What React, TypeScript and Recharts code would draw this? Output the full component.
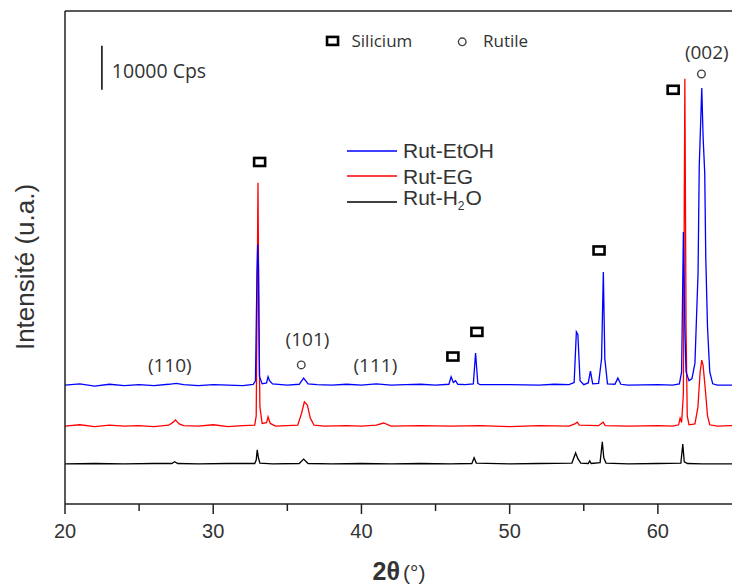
import React from 'react';
import {
  ComposedChart,
  Line,
  Scatter,
  XAxis,
  YAxis,
  Legend,
  ReferenceLine,
  ReferenceDot,
} from 'recharts';

// 2θ (°) vs intensity, in kcps (curves already offset as on the figure)
const RUT_ETOH: [number, number][] = [
  [20, 27], [21, 27.3], [22, 26.8], [23, 27.2], [24, 26.9], [25, 27.1], [26, 26.9], [27, 27.2],
  [27.5, 27.4], [28, 27.1], [29, 26.9], [30, 27.1], [31, 27], [32, 26.9], [32.7, 27.2], [32.85, 28],
  [32.95, 52], [33.0, 59], [33.05, 54], [33.12, 29], [33.3, 27.3], [33.6, 27.5], [33.7, 28.9],
  [33.8, 28], [34, 27.3], [35, 27], [35.8, 27.2], [36.1, 28.6], [36.4, 27.3], [37, 27.1], [38, 27],
  [39, 27.2], [40, 27], [41, 27.3], [42, 27], [43, 27.1], [44, 27.2], [45, 27], [45.9, 27.2],
  [46.05, 28.9], [46.2, 27.6], [46.35, 28], [46.5, 27.2], [47, 27.1], [47.55, 27.3], [47.7, 34.3],
  [47.85, 27.4], [48, 27.1], [50, 27.1], [52, 27], [53, 27.2], [54, 27.1], [54.35, 27.6],
  [54.5, 39.1], [54.6, 38.5], [54.75, 28], [55.0, 27.1], [55.3, 27.5], [55.45, 30.2], [55.6, 27.3],
  [56.0, 27.4], [56.2, 33], [56.32, 52.7], [56.42, 33], [56.6, 27.3], [57.1, 27.2], [57.3, 28.6],
  [57.5, 27.2], [58, 27], [60, 27.1], [61, 27], [61.45, 27.3], [61.6, 30], [61.72, 61.8],
  [61.82, 40], [61.9, 30], [62.1, 28], [62.3, 28.5], [62.5, 32], [62.71, 52.5], [62.79, 76.6],
  [62.96, 94.5], [63.05, 83.4], [63.16, 75.2], [63.23, 56], [63.35, 40], [63.5, 30], [63.7, 27.3],
  [64, 27], [65, 27],
];

const RUT_EG: [number, number][] = [
  [20, 17.7], [21, 18], [22, 17.6], [23, 17.9], [24, 17.7], [25, 17.8], [26, 17.6], [27, 17.9],
  [27.3, 18.6], [27.45, 19.1], [27.7, 18.2], [28, 17.8], [29, 17.7], [30, 18], [31, 17.6], [32, 17.8],
  [32.8, 17.9], [32.9, 20], [32.98, 55], [33.02, 73], [33.08, 42], [33.15, 22], [33.3, 18.3],
  [33.6, 18.5], [33.7, 19.8], [33.85, 18.3], [34.2, 17.7], [35, 17.8], [35.7, 17.9], [35.95, 20.5],
  [36.15, 23.2], [36.35, 22.5], [36.55, 19.5], [36.8, 17.9], [37.5, 17.7], [39, 17.8], [40, 17.7],
  [41, 17.9], [41.5, 18.4], [42, 17.7], [44, 17.8], [46, 17.7], [48, 17.8], [50, 17.6], [52, 17.8],
  [54, 17.7], [54.4, 18.2], [54.55, 18.6], [54.7, 17.9], [56, 17.8], [56.3, 18.6], [56.45, 17.8],
  [58, 17.7], [60, 17.8], [61, 17.7], [61.4, 18], [61.5, 19.5], [61.6, 18.5], [61.72, 25],
  [61.82, 96.6], [61.9, 40], [61.98, 20], [62.1, 18], [62.5, 18.2], [62.7, 22], [62.85, 30],
  [62.96, 32.7], [63.05, 31.5], [63.2, 26], [63.35, 20], [63.5, 18], [64, 17.7], [65, 17.8],
];

const RUT_H2O: [number, number][] = [
  [20, 9.1], [22, 9.2], [24, 9.1], [26, 9.2], [27.2, 9.2], [27.4, 9.6], [27.6, 9.2], [29, 9.1],
  [31, 9.2], [32.8, 9.2], [32.9, 10], [32.97, 12.3], [33.05, 10.5], [33.15, 9.3], [34, 9.1],
  [35.8, 9.2], [36.1, 10.2], [36.4, 9.2], [38, 9.1], [40, 9.2], [42, 9.1], [44, 9.2], [46, 9.1],
  [47.45, 9.2], [47.6, 10.5], [47.75, 9.3], [50, 9.1], [52, 9.2], [54.2, 9.3], [54.45, 11.6],
  [54.6, 10.3], [54.8, 9.3], [55.3, 9.2], [55.4, 9.8], [55.5, 9.2], [56.1, 9.4], [56.25, 14.1],
  [56.35, 10.5], [56.5, 9.3], [58, 9.1], [60, 9.2], [61.55, 9.3], [61.68, 13.6], [61.78, 9.6],
  [62, 9.2], [63, 9.1], [65, 9.1],
];

const SILICIUM_MARKS: [number, number][] = [
  [33.13, 77.7], [46.17, 33.5], [47.79, 39.1], [56.03, 57.6], [61.03, 94.1], [38.05, 105.2],
];
const RUTILE_MARKS: [number, number][] = [
  [35.94, 31.6], [62.94, 97.7], [46.8, 105],
];

const ANNOTATIONS: { x: number; y: number; text: string; anchor: 'start' | 'middle'; size: number }[] = [
  { x: 27.07, y: 31.6, text: '(110)', anchor: 'middle', size: 19 },
  { x: 36.36, y: 37.3, text: '(101)', anchor: 'middle', size: 19 },
  { x: 40.94, y: 31.6, text: '(111)', anchor: 'middle', size: 19 },
  { x: 63.3, y: 102.7, text: '(002)', anchor: 'middle', size: 19 },
  { x: 23.16, y: 98.4, text: '10000 Cps', anchor: 'start', size: 19.5 },
  { x: 39.33, y: 105.2, text: 'Silicium', anchor: 'start', size: 17 },
  { x: 48.2, y: 105.2, text: 'Rutile', anchor: 'start', size: 17 },
];

const SCALE_BAR_X = 22.49;
const SCALE_BAR_Y = [94.1, 104.1];

const X_TICKS = [20, 25, 30, 35, 40, 45, 50, 55, 60];

const SERIES = [
  { key: 'etoh', name: 'Rut-EtOH', color: '#0000ff', points: RUT_ETOH },
  { key: 'eg', name: 'Rut-EG', color: '#ff0000', points: RUT_EG },
  { key: 'h2o', name: 'Rut-H2O', color: '#000000', points: RUT_H2O },
];

const toXY = (pts: [number, number][]) => pts.map(([x, y]) => ({ x, y }));

const AXIS_COLOR = '#222';
const TEXT_COLOR = '#333';
const ARIAL = '"Liberation Sans", Arial, sans-serif';
const CALIBRI = '"Open Sans", "Noto Sans", sans-serif';

function XTick({ x, y, payload }: any) {
  const major = payload.value % 10 === 0;
  return (
    <g>
      <line x1={x} x2={x} y1={y} y2={y + (major ? 10 : 7)} stroke={AXIS_COLOR} strokeWidth={1.5} />
      {major && (
        <text x={x} y={y + 34} textAnchor="middle" fontSize={20} fontFamily={ARIAL} fill={TEXT_COLOR}>
          {payload.value}
        </text>
      )}
    </g>
  );
}

function SquareMark({ cx, cy }: any) {
  return <rect x={cx - 5.5} y={cy - 4} width={11} height={8} fill="none" stroke="#000" strokeWidth={2.6} />;
}

function CircleMark({ cx, cy }: any) {
  return <circle cx={cx} cy={cy} r={3.8} fill="none" stroke="#444" strokeWidth={1.4} />;
}

function renderLegend() {
  return (
    <div style={{ fontFamily: ARIAL, fontSize: 21, color: TEXT_COLOR }}>
      {SERIES.map((s) => (
        <div key={s.key} style={{ display: 'flex', alignItems: 'center', height: 25.5 }}>
          <svg width={50} height={4} style={{ marginRight: 6 }}>
            <line x1={0} x2={50} y1={2} y2={2} stroke={s.color} strokeWidth={1.3} />
          </svg>
          <span style={{ lineHeight: '25px' }}>
            {s.key === 'h2o' ? (
              <>
                Rut-H<sub style={{ fontSize: 12, verticalAlign: -5, letterSpacing: 1 }}>2</sub>O
              </>
            ) : (
              s.name
            )}
          </span>
        </div>
      ))}
    </div>
  );
}

export default function App() {
  return (
    <div style={{ position: 'absolute', left: 0, top: 0, background: '#fff' }}>
      <ComposedChart width={732} height={585} margin={{ top: 11, right: 0, left: 64, bottom: 51 }}>
        <XAxis
          dataKey="x"
          type="number"
          domain={[20, 65]}
          ticks={X_TICKS}
          interval={0}
          height={30}
          tickLine={false}
          tickSize={0}
          tickMargin={0}
          tick={<XTick />}
          axisLine={{ stroke: AXIS_COLOR, strokeWidth: 1.5 }}
          label={{
            content: () => (
              <text x={399} y={580} textAnchor="middle" fill={TEXT_COLOR} fontFamily={ARIAL}>
                <tspan fontSize={25} fontWeight="bold">2θ</tspan>
                <tspan fontSize={21} dx={3}>(°)</tspan>
              </text>
            ),
          }}
        />
        <YAxis
          type="number"
          domain={[0, 112]}
          width={1}
          tick={false}
          tickLine={false}
          axisLine={{ stroke: AXIS_COLOR, strokeWidth: 1.5 }}
          label={{
            content: () => (
              <text
                x={0}
                y={0}
                transform="translate(34, 267) rotate(-90)"
                textAnchor="middle"
                fontSize={26}
                fontFamily={ARIAL}
                fill={TEXT_COLOR}
              >
                Intensité (u.a.)
              </text>
            ),
          }}
        />
        <ReferenceLine y={112} stroke={AXIS_COLOR} strokeWidth={1.5} />
        <ReferenceLine
          segment={[
            { x: SCALE_BAR_X, y: SCALE_BAR_Y[0] },
            { x: SCALE_BAR_X, y: SCALE_BAR_Y[1] },
          ]}
          stroke="#000"
          strokeWidth={1.5}
        />
        <Legend
          layout="horizontal"
          verticalAlign="middle"
          align="center"
          content={renderLegend}
          wrapperStyle={{ left: 347, top: 138, width: 200, height: 80 }}
        />
        {SERIES.slice()
          .reverse()
          .map((s) => (
            <Line
              key={s.key}
              data={toXY(s.points)}
              dataKey="y"
              type="linear"
              stroke={s.color}
              strokeWidth={1.3}
              dot={false}
              name={s.name}
              isAnimationActive={false}
            />
          ))}
        <Scatter data={toXY(SILICIUM_MARKS)} dataKey="y" shape={<SquareMark />} isAnimationActive={false} />
        <Scatter data={toXY(RUTILE_MARKS)} dataKey="y" shape={<CircleMark />} isAnimationActive={false} />
        {ANNOTATIONS.map((a) => (
          <ReferenceDot
            key={a.text}
            x={a.x}
            y={a.y}
            r={0}
            shape={(p: any) => (
              <text
                x={p.cx}
                y={p.cy}
                dy={a.size * 0.35}
                textAnchor={a.anchor}
                fontSize={a.size}
                fontFamily={CALIBRI}
                fill={TEXT_COLOR}
              >
                {a.text}
              </text>
            )}
          />
        ))}
      </ComposedChart>
    </div>
  );
}
